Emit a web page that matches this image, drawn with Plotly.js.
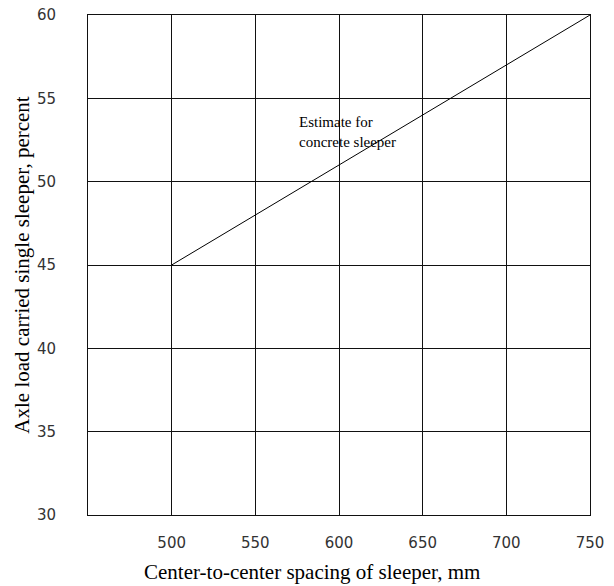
<!DOCTYPE html>
<html>
<head>
<meta charset="utf-8">
<script src="https://cdn.plot.ly/plotly-3.0.1.min.js"></script>
<style>html,body{margin:0;padding:0;background:#fff;}#chart{width:614px;height:586px;}</style>
</head>
<body>
<div id="chart"></div>
<script>
const spacing = [500, 750];
const axleLoad = [45, 60];
const xTicks = [500, 550, 600, 650, 700, 750];
const yTicks = [30, 35, 40, 45, 50, 55, 60];
const xTitle = 'Center-to-center spacing of sleeper, mm';
const yTitle = 'Axle load carried single sleeper, percent';
const noteText = "Estimate for<br>concrete sleeper";
const notePos = [575, 53];

const trace = {
  x: spacing, y: axleLoad, type: 'scatter', mode: 'lines',
  line: {color: '#000', width: 1}, hoverinfo: 'skip', showlegend: false
};
const titleFont = {family: 'Liberation Serif', size: 21, color: '#000'};
const layout = {
  width: 614, height: 586,
  margin: {l: 88, r: 24, t: 15, b: 71},
  paper_bgcolor: '#fff', plot_bgcolor: '#fff',
  xaxis: {
    range: [450, 750], tickvals: xTicks, ticktext: xTicks.map(String),
    showgrid: true, gridcolor: '#111', gridwidth: 1,
    showline: true, linecolor: '#111', linewidth: 1, mirror: true,
    zeroline: false, ticks: '', ticklabelstandoff: 14,
    tickfont: {family: 'DejaVu Sans', size: 15, color: '#333'}
  },
  yaxis: {
    range: [30, 60], tickvals: yTicks, ticktext: yTicks.map(String),
    showgrid: true, gridcolor: '#111', gridwidth: 1,
    showline: true, linecolor: '#111', linewidth: 1, mirror: true,
    zeroline: false, ticks: '', ticklabelstandoff: 28,
    tickfont: {family: 'DejaVu Sans', size: 15, color: '#333'},
    title: {text: yTitle, font: titleFont, standoff: 1}
  },
  annotations: [{
    x: notePos[0], y: notePos[1], xref: 'x', yref: 'y', text: noteText,
    showarrow: false, xanchor: 'left', yanchor: 'middle', align: 'left',
    font: {family: 'Liberation Serif', size: 15, color: '#000'}
  }, {
    x: 0.446, y: -0.114, xref: 'paper', yref: 'paper', text: xTitle,
    showarrow: false, xanchor: 'center', yanchor: 'middle', font: titleFont
  }]
};
Plotly.newPlot('chart', [trace], layout, {staticPlot: true, displayModeBar: false});
</script>
</body>
</html>
